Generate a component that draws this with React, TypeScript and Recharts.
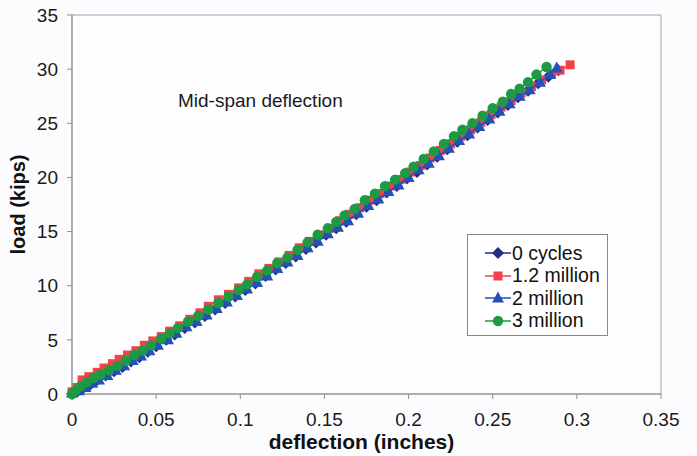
import React from "react"
import { ScatterChart, Scatter, XAxis, YAxis, ReferenceArea } from "recharts"

// deflection (inches) / load (kips), one pair of arrays per series
const cycles0Defl = [0, 0.003, 0.007, 0.011, 0.015, 0.02, 0.025, 0.03, 0.035, 0.04, 0.045, 0.05, 0.056, 0.061, 0.067, 0.073, 0.079, 0.085, 0.091, 0.097, 0.103, 0.109, 0.115, 0.121, 0.127, 0.133, 0.139, 0.145, 0.151, 0.157, 0.163, 0.169, 0.175, 0.181, 0.187, 0.193, 0.199, 0.205, 0.211, 0.217, 0.223, 0.229, 0.235, 0.241, 0.247, 0.253, 0.259, 0.265, 0.271, 0.277, 0.283, 0.289]
const cycles0Load = [0, 0.2, 0.6, 0.9, 1.3, 1.7, 2.1, 2.5, 3.0, 3.4, 3.9, 4.4, 5.0, 5.5, 6.1, 6.6, 7.2, 7.8, 8.4, 9.0, 9.6, 10.2, 10.9, 11.5, 12.1, 12.7, 13.4, 14.0, 14.7, 15.3, 15.9, 16.6, 17.3, 17.9, 18.6, 19.2, 19.9, 20.5, 21.2, 21.9, 22.6, 23.3, 23.9, 24.6, 25.3, 26.0, 26.7, 27.4, 28.0, 28.7, 29.3, 29.9]

const m12Defl = [0, 0.003, 0.006, 0.01, 0.015, 0.019, 0.024, 0.028, 0.033, 0.038, 0.043, 0.048, 0.053, 0.058, 0.064, 0.07, 0.076, 0.081, 0.087, 0.093, 0.099, 0.105, 0.111, 0.117, 0.123, 0.129, 0.135, 0.141, 0.147, 0.153, 0.159, 0.165, 0.171, 0.177, 0.183, 0.189, 0.195, 0.201, 0.207, 0.213, 0.219, 0.225, 0.231, 0.237, 0.243, 0.249, 0.255, 0.261, 0.267, 0.273, 0.279, 0.285, 0.29, 0.296]
const m12Load = [0.2, 0.6, 1.3, 1.6, 2.0, 2.4, 2.8, 3.2, 3.6, 4.0, 4.5, 4.9, 5.3, 5.8, 6.3, 6.9, 7.5, 8.1, 8.7, 9.2, 9.8, 10.4, 11.1, 11.6, 12.2, 12.8, 13.5, 14.1, 14.7, 15.3, 16.0, 16.6, 17.2, 17.9, 18.5, 19.2, 19.8, 20.5, 21.1, 21.8, 22.5, 23.1, 23.8, 24.4, 25.1, 25.8, 26.5, 27.1, 27.8, 28.4, 29.0, 29.6, 29.9, 30.4]

const m2Defl = [0, 0.004, 0.008, 0.012, 0.016, 0.021, 0.026, 0.031, 0.036, 0.041, 0.046, 0.051, 0.057, 0.062, 0.068, 0.074, 0.08, 0.086, 0.092, 0.098, 0.104, 0.11, 0.116, 0.122, 0.128, 0.134, 0.14, 0.146, 0.152, 0.158, 0.164, 0.17, 0.176, 0.182, 0.188, 0.194, 0.2, 0.206, 0.212, 0.218, 0.224, 0.23, 0.236, 0.242, 0.248, 0.254, 0.26, 0.266, 0.272, 0.278, 0.284, 0.288]
const m2Load = [0.1, 0.3, 0.6, 1.0, 1.3, 1.7, 2.2, 2.6, 3.1, 3.5, 4.0, 4.5, 5.0, 5.6, 6.2, 6.7, 7.3, 7.9, 8.5, 9.1, 9.7, 10.3, 10.9, 11.6, 12.2, 12.8, 13.5, 14.1, 14.8, 15.4, 16.0, 16.7, 17.4, 18.0, 18.7, 19.3, 20.0, 20.7, 21.3, 22.0, 22.7, 23.4, 24.0, 24.7, 25.4, 26.1, 26.8, 27.5, 28.1, 28.8, 29.5, 30.1]

const m3Defl = [0, 0.002, 0.005, 0.009, 0.013, 0.017, 0.022, 0.027, 0.032, 0.037, 0.042, 0.047, 0.053, 0.058, 0.063, 0.069, 0.075, 0.081, 0.087, 0.093, 0.099, 0.104, 0.11, 0.116, 0.122, 0.128, 0.134, 0.14, 0.146, 0.152, 0.157, 0.162, 0.168, 0.174, 0.18, 0.186, 0.192, 0.198, 0.203, 0.209, 0.215, 0.221, 0.227, 0.232, 0.238, 0.244, 0.25, 0.256, 0.261, 0.266, 0.271, 0.276, 0.282]
const m3Load = [0, 0.3, 0.7, 1.1, 1.5, 1.8, 2.2, 2.6, 3.1, 3.6, 4.0, 4.5, 5.1, 5.6, 6.1, 6.7, 7.2, 7.8, 8.4, 9.0, 9.6, 10.1, 10.8, 11.4, 12.1, 12.6, 13.3, 14.0, 14.7, 15.3, 15.9, 16.5, 17.1, 17.9, 18.5, 19.2, 19.8, 20.4, 21.0, 21.7, 22.4, 23.1, 23.8, 24.4, 25.0, 25.7, 26.4, 27.0, 27.7, 28.2, 28.8, 29.5, 30.2]

const xTicks = [0, 0.05, 0.1, 0.15, 0.2, 0.25, 0.3, 0.35]
const yTicks = [0, 5, 10, 15, 20, 25, 30, 35]

const FONT = "'Liberation Sans', Arial, sans-serif"

const zip = (xs: number[], ys: number[]) => xs.map((x, i) => ({ x, y: ys[i] }))

function Diamond({ cx, cy, fill }: any) {
  return <path d={`M${cx},${cy - 6}L${cx + 6},${cy}L${cx},${cy + 6}L${cx - 6},${cy}Z`} fill={fill} />
}
function Square({ cx, cy, fill }: any) {
  return <rect x={cx - 4.5} y={cy - 4.5} width={9} height={9} fill={fill} />
}
function Triangle({ cx, cy, fill }: any) {
  return <path d={`M${cx},${cy - 6.5}L${cx + 6},${cy + 4.5}L${cx - 6},${cy + 4.5}Z`} fill={fill} />
}
function Dot({ cx, cy, fill }: any) {
  return <circle cx={cx} cy={cy} r={5.2} fill={fill} />
}

const series = [
  { name: "0 cycles", data: zip(cycles0Defl, cycles0Load), color: "#1f2d86", shape: Diamond },
  { name: "1.2 million", data: zip(m12Defl, m12Load), color: "#f2424a", shape: Square },
  { name: "2 million", data: zip(m2Defl, m2Load), color: "#2450b8", shape: Triangle },
  { name: "3 million", data: zip(m3Defl, m3Load), color: "#1d9a44", shape: Dot },
]

function LegendBox() {
  return (
    <div style={{
      position: "absolute", left: 467, top: 234, width: 141, height: 102,
      background: "#fff", border: "1px solid #8a8a8a", fontFamily: FONT, fontSize: 19.5, color: "#111",
      boxSizing: "border-box", paddingTop: 7,
    }}>
      {series.map(s => {
        const Shape = s.shape
        return (
          <div key={s.name} style={{ display: "flex", alignItems: "center", height: 22.5 }}>
            <svg width={44} height={14}>
              <line x1={17} y1={7} x2={43} y2={7} stroke={s.color} strokeWidth={1.5} />
              <Shape cx={30} cy={7} fill={s.color} />
            </svg>
            <span style={{ lineHeight: "19px" }}>{s.name}</span>
          </div>
        )
      })}
    </div>
  )
}

function YTitle({ viewBox }: any) {
  const cy = viewBox.y + viewBox.height / 2
  return (
    <text x={18} y={cy} transform={`rotate(-90, 18, ${cy})`} textAnchor="middle" dominantBaseline="central"
      fontFamily={FONT} fontSize={20} fontWeight="bold" fill="#111">load (kips)</text>
  )
}

function XTitle({ viewBox }: any) {
  return (
    <text x={viewBox.x + viewBox.width / 2 - 5} y={449} textAnchor="middle"
      fontFamily={FONT} fontSize={21} fontWeight="bold" fill="#111">deflection (inches)</text>
  )
}

export default function App() {
  const tick = { fontFamily: FONT, fontSize: 19, fill: "#1a1a1a" }
  return (
    <div style={{ position: "absolute", left: 0, top: 0, width: 697, height: 456, background: "#fcfcfe" }}>
      <ScatterChart width={697} height={456} margin={{ top: 15, right: 36, left: 0, bottom: 0 }}>
        <ReferenceArea x1={0} x2={0.35} y1={0} y2={35} fill="#fff" stroke="#9aa0ad" strokeWidth={1} ifOverflow="visible" />
        <XAxis type="number" dataKey="x" domain={[0, 0.35]} ticks={xTicks} interval={0} height={62}
          tick={tick} tickSize={5} tickMargin={14} stroke="#8f8f8f" label={<XTitle />} />
        <YAxis type="number" dataKey="y" domain={[0, 35]} ticks={yTicks} interval={0} width={72}
          tick={tick} tickSize={5} tickMargin={9} stroke="#8f8f8f" label={<YTitle />} />
        {series.map(s => (
          <Scatter key={s.name} name={s.name} data={s.data} fill={s.color}
            line={{ stroke: s.color, strokeWidth: 1.5 }} lineType="joint"
            shape={(p: any) => <s.shape cx={p.cx} cy={p.cy} fill={s.color} />}
            isAnimationActive={false} />
        ))}
      </ScatterChart>
      <div style={{ position: "absolute", left: 178, top: 89, fontFamily: FONT, fontSize: 19, color: "#1a1a1a", lineHeight: "24px" }}>
        Mid-span deflection
      </div>
      <LegendBox />
    </div>
  )
}
